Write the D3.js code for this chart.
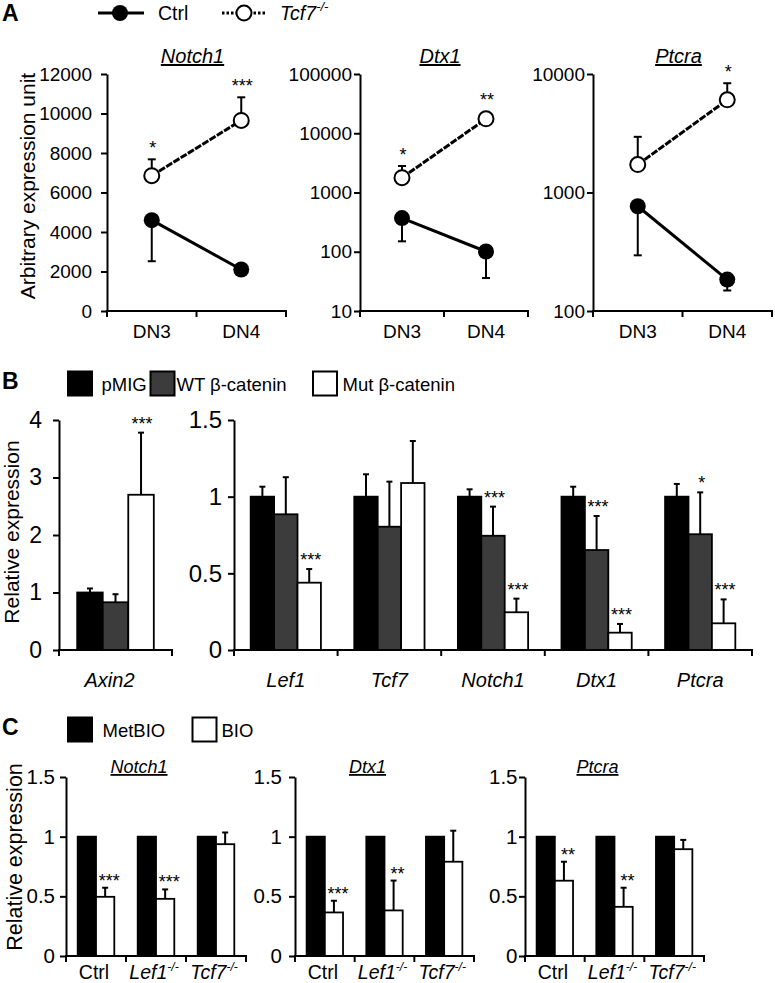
<!DOCTYPE html>
<html><head><meta charset="utf-8">
<script src="https://cdn.jsdelivr.net/npm/d3@7"></script>
<style>body{margin:0;background:#fff}</style>
</head><body><svg id="c" width="775" height="983" xmlns="http://www.w3.org/2000/svg"></svg>
<script>
// ---------------- DATA ----------------
// Panel A
const stagesA = ["DN3", "DN4"];
const genesA = ["Notch1", "Dtx1", "Ptcra"];
const ctrlNotch1 = [4600, 2100], ctrlNotch1SD = [2080, 0];
const tcf7Notch1 = [6850, 9650], tcf7Notch1SD = [830, 1170];
const ctrlDtx1 = [370, 101], ctrlDtx1SD = [220, 65];
const tcf7Dtx1 = [1780, 17500], tcf7Dtx1SD = [1020, 0];
const ctrlPtcra = [766, 184], ctrlPtcraSD = [471, 35];
const tcf7Ptcra = [1720, 6050], tcf7PtcraSD = [1230, 2310];
const starsNotch1A = ["*", "***"], starsDtx1A = ["*", "**"], starsPtcraA = ["", "*"];
const ticksNotch1A = [0, 2000, 4000, 6000, 8000, 10000, 12000];
const ticksDtx1A = [10, 100, 1000, 10000, 100000];
const ticksPtcraA = [100, 1000, 10000];

// Panel B
const seriesB = ["pMIG", "WT \u03b2-catenin", "Mut \u03b2-catenin"];
const genesB1 = ["Axin2"];
const pmigB1 = [1.0], pmigB1SD = [0.07];
const wtB1 = [0.83], wtB1SD = [0.14];
const mutB1 = [2.70], mutB1SD = [1.08];
const starsMutB1 = ["***"];
const genesB2 = ["Lef1", "Tcf7", "Notch1", "Dtx1", "Ptcra"];
const pmigB2 = [1, 1, 1, 1, 1], pmigB2SD = [0.065, 0.146, 0.048, 0.065, 0.083];
const wtB2 = [0.885, 0.804, 0.745, 0.652, 0.755], wtB2SD = [0.242, 0.294, 0.19, 0.222, 0.273];
const mutB2 = [0.439, 1.089, 0.246, 0.113, 0.174], mutB2SD = [0.089, 0.274, 0.089, 0.057, 0.156];
const starsWtB2 = ["", "", "***", "***", "*"];
const starsMutB2 = ["***", "", "***", "***", "***"];
const ticksB1 = [0, 1, 2, 3, 4];
const ticksB2 = [0, 0.5, 1, 1.5];

// Panel C
const seriesC = ["MetBIO", "BIO"];
const genesC = ["Notch1", "Dtx1", "Ptcra"];
const groupsC = ["Ctrl", "Lef1-/-", "Tcf7-/-"];
const metbioNotch1 = [1, 1, 1], bioNotch1 = [0.496, 0.479, 0.937], bioNotch1SD = [0.076, 0.079, 0.098];
const metbioDtx1 = [1, 1, 1], bioDtx1 = [0.365, 0.382, 0.79], bioDtx1SD = [0.098, 0.25, 0.26];
const metbioPtcra = [1, 1, 1], bioPtcra = [0.631, 0.412, 0.895], bioPtcraSD = [0.159, 0.16, 0.078];
const starsNotch1C = ["***", "***", ""], starsDtx1C = ["***", "**", ""], starsPtcraC = ["**", "**", ""];
const ticksC = [0, 0.5, 1, 1.5];

// ---------------- DRAWING ----------------
const FONT = '"Liberation Sans", Arial, Helvetica, sans-serif';
const svg = d3.select("#c").attr("font-family", FONT);

function styleAxis(g, fs) {
  g.attr("font-family", FONT).attr("font-size", fs);
  g.selectAll("path.domain").attr("stroke", "#000").attr("stroke-width", 2);
  g.selectAll(".tick line").attr("stroke", "#000").attr("stroke-width", 2);
  g.selectAll(".tick text").attr("fill", "#000");
}

function label(sel, str, italic, fs, supFs) {
  const m = str.match(/^(.*?)(-\/-)?$/);
  sel.append("tspan").text(m[1]).attr("font-style", italic ? "italic" : "normal");
  if (m[2]) {
    sel.append("tspan").text(m[2]).attr("font-style", "italic")
      .attr("font-size", supFs).attr("dy", -fs * 0.42);
  }
  return !!m[2];
}

function xAxisBand(g, xb, y0, tickLen) {
  const [a, b] = xb.range();
  g.append("line").attr("x1", a - 1).attr("x2", b + 1).attr("y1", y0).attr("y2", y0)
    .attr("stroke", "#000").attr("stroke-width", 2);
  const bounds = xb.domain().map(d => xb(d)).concat([b]);
  g.selectAll("line.bt").data(bounds).join("line").attr("class", "bt")
    .attr("x1", d => d).attr("x2", d => d).attr("y1", y0).attr("y2", y0 + tickLen)
    .attr("stroke", "#000").attr("stroke-width", 2);
}

function title(x, y, txt, fs) {
  svg.append("text").attr("x", x).attr("y", y).attr("text-anchor", "middle")
    .attr("font-size", fs).attr("font-style", "italic").attr("text-decoration", "underline")
    .text(txt);
}

function ylab(x, y, txt, fs) {
  svg.append("text").attr("transform", `translate(${x},${y}) rotate(-90)`)
    .attr("text-anchor", "middle").attr("dy", "0.35em").attr("font-size", fs).text(txt);
}

// ---- Panel A ----
svg.append("text").attr("x", 2).attr("y", 21).attr("font-size", 23).attr("font-weight", "bold").text("A");
{
  const g = svg.append("g");
  g.append("line").attr("x1", 98).attr("x2", 144).attr("y1", 13).attr("y2", 13).attr("stroke", "#000").attr("stroke-width", 3);
  g.append("circle").attr("cx", 120).attr("cy", 13).attr("r", 8).attr("fill", "#000");
  g.append("text").attr("x", 158).attr("y", 19.5).attr("font-size", 19.5).text("Ctrl");
  g.append("line").attr("x1", 222).attr("x2", 267).attr("y1", 13).attr("y2", 13).attr("stroke", "#000").attr("stroke-width", 3).attr("stroke-dasharray", "2.5,2");
  g.append("circle").attr("cx", 244).attr("cy", 13).attr("r", 7.5).attr("fill", "#fff").attr("stroke", "#000").attr("stroke-width", 2);
  const t = g.append("text").attr("x", 280).attr("y", 19.5).attr("font-size", 19.5);
  label(t, "Tcf7-/-", true, 19.5, 13);
}

const panelsA = [
  { gene: "Notch1", x0: 107, x1: 286, ctrl: ctrlNotch1, ctrlSD: ctrlNotch1SD, tcf: tcf7Notch1, tcfSD: tcf7Notch1SD, stars: starsNotch1A, ticks: ticksNotch1A, log: false, pad: 9 },
  { gene: "Dtx1", x0: 360, x1: 528, ctrl: ctrlDtx1, ctrlSD: ctrlDtx1SD, tcf: tcf7Dtx1, tcfSD: tcf7Dtx1SD, stars: starsDtx1A, ticks: ticksDtx1A, log: true, pad: 2 },
  { gene: "Ptcra", x0: 593, x1: 772, ctrl: ctrlPtcra, ctrlSD: ctrlPtcraSD, tcf: tcf7Ptcra, tcfSD: tcf7PtcraSD, stars: starsPtcraA, ticks: ticksPtcraA, log: true, pad: 2 }
];
const yA0 = 311, yA1 = 74;
panelsA.forEach(p => {
  const dom = d3.extent(p.ticks);
  const y = (p.log ? d3.scaleLog() : d3.scaleLinear()).domain(dom).range([yA0, yA1]);
  const x = d3.scaleBand().domain(stagesA).range([p.x0, p.x1]);
  const cx = d => x(d) + x.bandwidth() / 2;
  const g = svg.append("g");
  const ya = g.append("g").attr("transform", `translate(${p.x0},0)`)
    .call(d3.axisLeft(y).tickValues(p.ticks).tickFormat(d3.format("d")).tickSize(6).tickSizeOuter(0).tickPadding(p.pad));
  styleAxis(ya, 19);
  xAxisBand(g, x, yA0, 6);
  g.selectAll("text.xl").data(stagesA).join("text").attr("class", "xl")
    .attr("x", cx).attr("y", 338).attr("text-anchor", "middle").attr("font-size", 19).text(d => d);
  title((p.x0 + p.x1) / 2 - 4, 63, p.gene, 20);

  const ctrlPts = stagesA.map((s, i) => ({ s, v: p.ctrl[i], e: p.ctrlSD[i] }));
  const tcfPts = stagesA.map((s, i) => ({ s, v: p.tcf[i], e: p.tcfSD[i], st: p.stars[i] }));
  const line = d3.line().x(d => cx(d.s)).y(d => y(d.v));
  ctrlPts.filter(d => d.e > 0).forEach(d => {
    const yb = y(d.v - d.e);
    g.append("line").attr("x1", cx(d.s)).attr("x2", cx(d.s)).attr("y1", y(d.v)).attr("y2", yb).attr("stroke", "#000").attr("stroke-width", 2);
    g.append("line").attr("x1", cx(d.s) - 4).attr("x2", cx(d.s) + 4).attr("y1", yb).attr("y2", yb).attr("stroke", "#000").attr("stroke-width", 2);
  });
  tcfPts.filter(d => d.e > 0).forEach(d => {
    const yt = y(d.v + d.e);
    g.append("line").attr("x1", cx(d.s)).attr("x2", cx(d.s)).attr("y1", y(d.v)).attr("y2", yt).attr("stroke", "#000").attr("stroke-width", 2);
    g.append("line").attr("x1", cx(d.s) - 4).attr("x2", cx(d.s) + 4).attr("y1", yt).attr("y2", yt).attr("stroke", "#000").attr("stroke-width", 2);
  });
  g.append("path").datum(ctrlPts).attr("d", line).attr("fill", "none").attr("stroke", "#000").attr("stroke-width", 3);
  g.append("path").datum(tcfPts).attr("d", line).attr("fill", "none").attr("stroke", "#000").attr("stroke-width", 3).attr("stroke-dasharray", "7,1.5");
  g.selectAll("circle.c").data(ctrlPts).join("circle").attr("class", "c")
    .attr("cx", d => cx(d.s)).attr("cy", d => y(d.v)).attr("r", 8).attr("fill", "#000");
  g.selectAll("circle.t").data(tcfPts).join("circle").attr("class", "t")
    .attr("cx", d => cx(d.s)).attr("cy", d => y(d.v)).attr("r", 7.5).attr("fill", "#fff").attr("stroke", "#000").attr("stroke-width", 2);
  g.selectAll("text.st").data(tcfPts.filter(d => d.st)).join("text").attr("class", "st")
    .attr("x", d => cx(d.s) + 1).attr("y", d => Math.min(y(d.v + d.e), y(d.v) - 8) - 5)
    .attr("text-anchor", "middle").attr("font-size", 18).text(d => d.st);
});
ylab(28, 186, "Arbitrary expression unit", 21);

// ---- Generic grouped bars ----
function drawBars(cfg) {
  const g = svg.append("g");
  const y = d3.scaleLinear().domain(d3.extent(cfg.ticks)).range([cfg.y0, cfg.y1]);
  const x = d3.scaleBand().domain(cfg.cats).range([cfg.x0, cfg.x1]);
  const gw = x.bandwidth() * cfg.frac;
  const off = (x.bandwidth() - gw) / 2;
  const xs = d3.scaleBand().domain(cfg.series.map((s, i) => i)).range([0, gw]);
  const ya = g.append("g").attr("transform", `translate(${cfg.x0},0)`)
    .call(d3.axisLeft(y).tickValues(cfg.ticks).tickFormat(d => String(d)).tickSize(6).tickSizeOuter(0).tickPadding(cfg.tickPad));
  styleAxis(ya, cfg.tickFs);
  cfg.series.forEach((s, si) => {
    const pts = cfg.cats.map((c, i) => ({ c, v: s.vals[i], e: s.sd ? s.sd[i] : 0, st: s.stars ? s.stars[i] : "" }));
    const bx = d => x(d.c) + off + xs(si);
    const bc = d => bx(d) + xs.bandwidth() / 2;
    pts.filter(d => d.e > 0).forEach(d => {
      const yt = y(d.v + d.e);
      g.append("line").attr("x1", bc(d)).attr("x2", bc(d)).attr("y1", y(d.v)).attr("y2", yt).attr("stroke", "#000").attr("stroke-width", 2);
      g.append("line").attr("x1", bc(d) - 3).attr("x2", bc(d) + 3).attr("y1", yt).attr("y2", yt).attr("stroke", "#000").attr("stroke-width", 2);
    });
    g.selectAll(null).data(pts).join("rect")
      .attr("x", bx).attr("width", xs.bandwidth())
      .attr("y", d => y(d.v)).attr("height", d => y(0) - y(d.v))
      .attr("fill", s.fill).attr("stroke", "#000").attr("stroke-width", 1.8);
    g.selectAll(null).data(pts.filter(d => d.st)).join("text")
      .attr("x", d => bc(d) + cfg.starDx).attr("y", d => y(d.v + d.e) - cfg.starGap)
      .attr("text-anchor", "middle").attr("font-size", 18).text(d => d.st);
  });
  xAxisBand(g, x, cfg.y0, 6);
  cfg.cats.forEach(c => {
    const t = g.append("text").attr("x", x(c) + x.bandwidth() / 2 + (cfg.labDx || 0)).attr("y", cfg.labY)
      .attr("text-anchor", "middle").attr("font-size", cfg.labFs);
    label(t, c, c !== "Ctrl", cfg.labFs, cfg.supFs || cfg.labFs * 0.65);
  });
  return { x, y };
}

// ---- Panel B ----
svg.append("text").attr("x", 2).attr("y", 389).attr("font-size", 23).attr("font-weight", "bold").text("B");
const fillsB = ["#000", "#3c3c3c", "#fff"];
{
  const lx = [68, 150.5, 313], tx = [101.5, 176.5, 342.5];
  seriesB.forEach((s, i) => {
    svg.append("rect").attr("x", lx[i]).attr("y", 371.5).attr("width", 24).attr("height", 24)
      .attr("fill", fillsB[i]).attr("stroke", "#000").attr("stroke-width", 2);
    svg.append("text").attr("x", tx[i]).attr("y", 391).attr("font-size", 18.5).text(s);
  });
}
drawBars({
  cats: genesB1, x0: 59, x1: 172, y0: 650, y1: 420, ticks: ticksB1, tickFs: 23, tickPad: 11, frac: 0.678,
  series: [
    { vals: pmigB1, sd: pmigB1SD, fill: fillsB[0] },
    { vals: wtB1, sd: wtB1SD, fill: fillsB[1] },
    { vals: mutB1, sd: mutB1SD, fill: fillsB[2], stars: starsMutB1 }
  ],
  starGap: 3, starDx: 1, labY: 687, labFs: 20, labDx: -6
});
drawBars({
  cats: genesB2, x0: 234, x1: 752, y0: 650, y1: 420, ticks: ticksB2, tickFs: 24, tickPad: 6, frac: 0.678,
  series: [
    { vals: pmigB2, sd: pmigB2SD, fill: fillsB[0] },
    { vals: wtB2, sd: wtB2SD, fill: fillsB[1], stars: starsWtB2 },
    { vals: mutB2, sd: mutB2SD, fill: fillsB[2], stars: starsMutB2 }
  ],
  starGap: 3, starDx: 1.5, labY: 687, labFs: 20
});
ylab(12, 532, "Relative expression", 21);

// ---- Panel C ----
svg.append("text").attr("x", 2).attr("y", 735).attr("font-size", 23).attr("font-weight", "bold").text("C");
const fillsC = ["#000", "#fff"];
{
  const lx = [68, 192.5], tx = [102.5, 221.5];
  seriesC.forEach((s, i) => {
    svg.append("rect").attr("x", lx[i]).attr("y", 717.5).attr("width", 24).attr("height", 24)
      .attr("fill", fillsC[i]).attr("stroke", "#000").attr("stroke-width", 2);
    svg.append("text").attr("x", tx[i]).attr("y", 736.5).attr("font-size", 18.5).text(s);
  });
}
const panelsC = [
  { gene: "Notch1", x0: 66, x1: 246, met: metbioNotch1, bio: bioNotch1, sd: bioNotch1SD, stars: starsNotch1C, pad: 5 },
  { gene: "Dtx1", x0: 295, x1: 474, met: metbioDtx1, bio: bioDtx1, sd: bioDtx1SD, stars: starsDtx1C, pad: 7 },
  { gene: "Ptcra", x0: 525, x1: 704, met: metbioPtcra, bio: bioPtcra, sd: bioPtcraSD, stars: starsPtcraC, pad: 1.5 }
];
panelsC.forEach(p => {
  drawBars({
    cats: groupsC, x0: p.x0, x1: p.x1, y0: 956, y1: 777, ticks: ticksC, tickFs: 20.5, tickPad: p.pad, frac: 0.61,
    series: [
      { vals: p.met, fill: fillsC[0] },
      { vals: p.bio, sd: p.sd, fill: fillsC[1], stars: p.stars }
    ],
    starGap: 1, starDx: 4, labY: 979, labFs: 19.5, supFs: 12, labDx: -2
  });
  title((p.x0 + p.x1) / 2 - 17, 773, p.gene, 18);
});
ylab(14, 857, "Relative expression", 21.5);
</script>
</body></html>
